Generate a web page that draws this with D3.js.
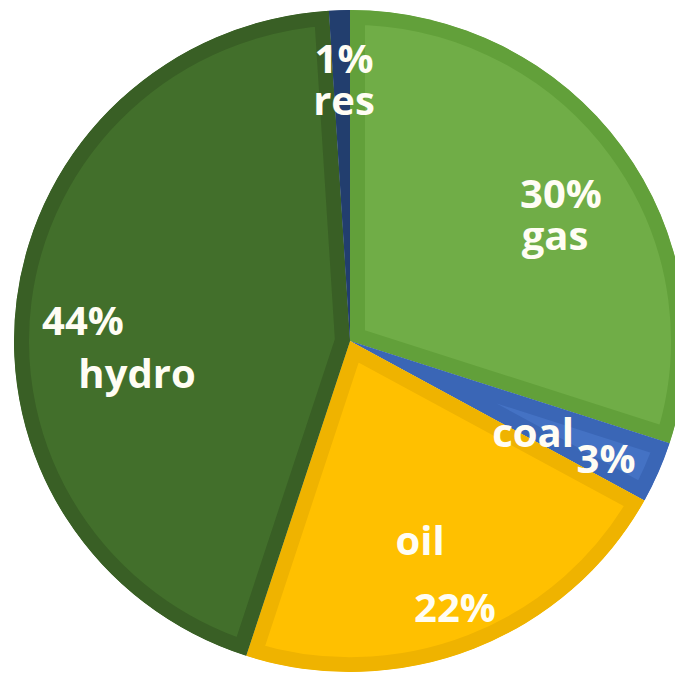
<!DOCTYPE html>
<html>
<head>
<meta charset="utf-8">
<script src="https://cdn.jsdelivr.net/npm/d3@7"></script>
<style>
  html, body { margin: 0; padding: 0; background: #ffffff; }
  svg { display: block; }
  text { font-family: "Open Sans", "DejaVu Sans", sans-serif; font-weight: 700; }
</style>
</head>
<body>
<script>
// Electricity generation mix (share of total, %)
const categories = ["gas", "coal", "oil", "hydro", "res"];
const shares = [30, 3, 22, 44, 1];
const pctLabels = ["30%", "3%", "22%", "44%", "1%"];

// Slice fills and the darker bevel band drawn along each slice edge
const fillColors = ["#70ad47", "#4472c4", "#ffc000", "#426f2b", "#264478"];
const bandColors = ["#62a03a", "#3a66b6", "#efb300", "#395f25", "#223e6e"];

// Text placement (baseline offsets from the pie centre) for name and percentage
const nameOffsets = [[205, -91], [183, 106], [70, 214], [-213, 47], [-6, -226]];
const pctOffsets  = [[211, -133], [256, 132], [105, 281], [-267, -6], [-6, -268]];

const W = 675, H = 681;
const cx = 350, cy = 341, R = 336, squash = 0.985;

const svg = d3.select("body").append("svg")
  .attr("width", W).attr("height", H);

const data = categories.map((c, i) => ({ name: c, value: shares[i], i }));

const pie = d3.pie().value(d => d.value).sort(null);
const arc = d3.arc().innerRadius(0).outerRadius(R);
const arcs = pie(data);

const defs = svg.append("defs");
arcs.forEach((a, i) => {
  defs.append("clipPath").attr("id", "clip-" + i)
    .append("path").attr("d", arc(a));
});

const g = svg.append("g")
  .attr("transform", `translate(${cx},${cy}) scale(1,${squash})`);

const slices = g.selectAll("g.slice").data(arcs).enter().append("g")
  .attr("class", "slice")
  .attr("clip-path", (d, i) => `url(#clip-${i})`);

slices.append("path")
  .attr("d", arc)
  .attr("fill", (d, i) => fillColors[i])
  .attr("stroke", (d, i) => bandColors[i])
  .attr("stroke-width", 30)
  .attr("stroke-linejoin", "miter");

const labels = svg.append("g").attr("transform", `translate(${cx},${cy})`);

labels.selectAll("text.pct").data(data).enter().append("text")
  .attr("class", "pct")
  .attr("x", (d, i) => pctOffsets[i][0])
  .attr("y", (d, i) => pctOffsets[i][1])
  .attr("text-anchor", "middle")
  .attr("font-size", 40)
  .attr("fill", "#fffdf4")
  .text((d, i) => pctLabels[i]);

labels.selectAll("text.name").data(data).enter().append("text")
  .attr("class", "name")
  .attr("x", (d, i) => nameOffsets[i][0])
  .attr("y", (d, i) => nameOffsets[i][1])
  .attr("text-anchor", "middle")
  .attr("font-size", 40)
  .attr("fill", "#fffdf4")
  .text(d => d.name);
</script>
</body>
</html>
